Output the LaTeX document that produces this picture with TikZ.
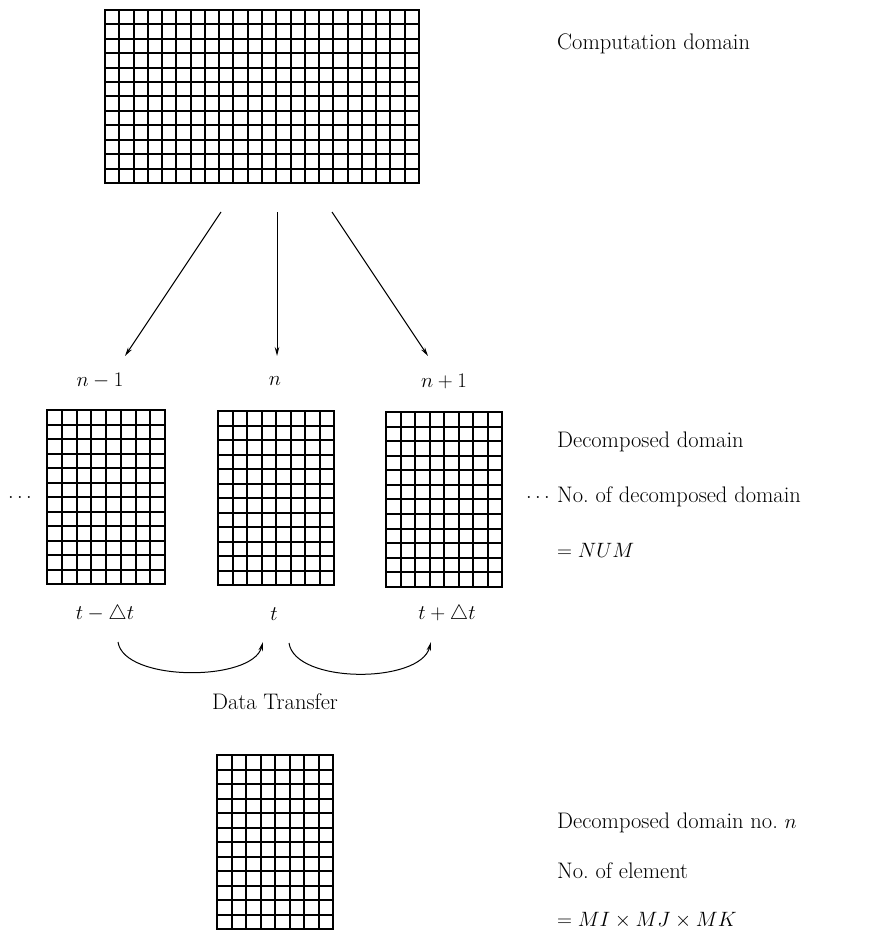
\documentclass[tikz,border=0pt]{standalone}
\usetikzlibrary{arrows.meta}
\tikzset{
  gridline/.style={line width=1.4pt},
  frame/.style={draw, line width=2.6pt, inner sep=0pt, outer sep=0pt},
  lbl/.style={font=\fontsize{22.5}{27}\selectfont, inner sep=0pt},
  side/.style={font=\fontsize{22.5}{27}\selectfont, inner sep=0pt, anchor=base west},
  arr/.style={line width=1pt, -{Stealth[length=9pt,width=4.5pt]}},
}
\newcommand\cellgrid[6]{%
  \pgfmathsetmacro\gdx{(#3-#1)/#5}%
  \pgfmathsetmacro\gdy{(#4-#2)/#6}%
  \pgfmathtruncatemacro\gnx{#5-1}%
  \pgfmathtruncatemacro\gny{#6-1}%
  \foreach \i in {1,...,\gnx} {\pgfmathsetmacro\gx{round(#1+\i*\gdx)}\draw[gridline] (\gx,#2) -- (\gx,#4);}%
  \foreach \j in {1,...,\gny} {\pgfmathsetmacro\gy{round(#2+\j*\gdy)}\draw[gridline] (#1,\gy) -- (#3,\gy);}%
}
\begin{document}
\begin{tikzpicture}[x=1pt,y=-1pt]
\useasboundingbox (0,0) rectangle (895,931);
% top computation domain
\cellgrid{105}{10}{419}{183}{22}{12}
\node[frame, minimum width=314pt, minimum height=173pt] (comp) at (262,96.5) {};
% decomposed domains
\cellgrid{47}{410}{165}{584}{8}{12}
\node[frame, minimum width=118pt, minimum height=174pt] (dA) at (106,497) {};
\cellgrid{218}{411}{334}{585}{8}{12}
\node[frame, minimum width=116pt, minimum height=174pt] (dB) at (276,498) {};
\cellgrid{386}{412}{502}{587}{8}{12}
\node[frame, minimum width=116pt, minimum height=175pt] (dC) at (444,499.5) {};
% single domain
\cellgrid{217}{755}{333}{929}{8}{12}
\node[frame, minimum width=116pt, minimum height=174pt] (dN) at (275,842) {};
% arrows
\coordinate (sA) at (221,212);
\coordinate (sB) at (277,212);
\coordinate (sC) at (332,212);
\coordinate (eA) at (125,356);
\coordinate (eB) at (277,356);
\coordinate (eC) at (428,356);
\draw[arr] (sA) -- (eA);
\draw[arr] (sB) -- (eB);
\draw[arr] (sC) -- (eC);
% labels
\node[lbl] (lA) at (100,381) {$n-1$};
\node[lbl] (lB) at (275,381) {$n$};
\node[lbl] (lC) at (444,381) {$n+1$};
\node[lbl] (tA) at (105,614) {$t-\triangle t$};
\node[lbl] (tB) at (274,614) {$t$};
\node[lbl] (tC) at (447,614) {$t+\triangle t$};
\node[lbl] (dots1) at (20,497) {$\ldots$};
\node[lbl] (dots2) at (538,497) {$\ldots$};
% data transfer curves
\coordinate (c1s) at (118,642);
\coordinate (c1e) at (263,642);
\coordinate (c2s) at (289,643);
\coordinate (c2e) at (431,642);
\draw[arr] (c1s) .. controls (124,682) and (252,682) .. (c1e);
\draw[arr] (c2s) .. controls (295,684) and (420,684) .. (c2e);
\node[lbl] (dt) at (275,702) {Data Transfer};
% side texts
\node[side] (s1) at (557,50) {Computation domain};
\node[side] (s2) at (557,447) {Decomposed domain};
\node[side] (s3) at (557,502) {No.\ of decomposed domain};
\node[side] (s4) at (557,557) {$=NUM$};
\node[side] (s5) at (557,828) {Decomposed domain no.\ $n$};
\node[side] (s6) at (557,878) {No.\ of element};
\node[side] (s7) at (557,926) {$=MI\times MJ\times MK$};
\end{tikzpicture}
\end{document}
